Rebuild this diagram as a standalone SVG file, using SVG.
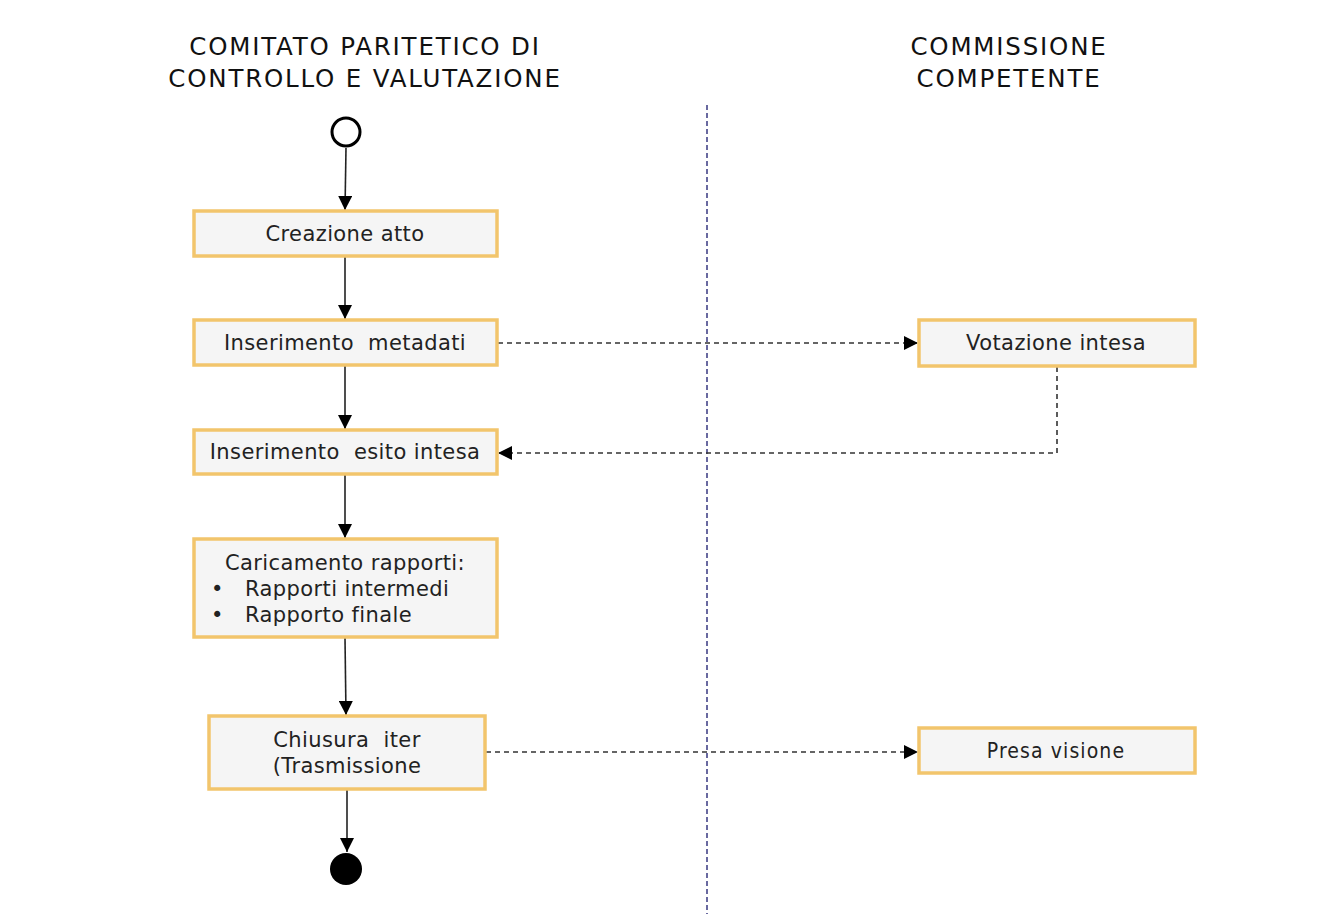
<svg xmlns="http://www.w3.org/2000/svg" width="1334" height="914" viewBox="0 0 1334 914">
<style>
text{font-family:"DejaVu Sans","Verdana",sans-serif;fill:#222;}
.title{font-size:24.5px;letter-spacing:1.8px;text-anchor:middle;fill:#111;}
.lbl{font-size:21px;letter-spacing:0.4px;text-anchor:middle;}
.li{font-size:21px;letter-spacing:0.4px;}
.box{fill:#F5F5F5;stroke:#F2C56C;stroke-width:3.5;}
.solid{stroke:#222;stroke-width:1.6;fill:none;marker-end:url(#ah);}
.dash{stroke:#333;stroke-width:1.6;fill:none;stroke-dasharray:5,4;marker-end:url(#ah);}
</style>
<defs>
<marker id="ah" viewBox="0 0 10 10" refX="10" refY="5" markerWidth="15" markerHeight="14" markerUnits="userSpaceOnUse" orient="auto">
<path d="M0,0 L10,5 L0,10 z" fill="#000"/>
</marker>
</defs>
<rect width="1334" height="914" fill="#fff"/>
<g id="titles">
<text class="title" x="365" y="55">COMITATO PARITETICO DI</text>
<text class="title" x="365" y="87">CONTROLLO E VALUTAZIONE</text>
<text class="title" x="1009" y="55">COMMISSIONE</text>
<text class="title" x="1009" y="87">COMPETENTE</text>
</g>
<line id="swimlane" x1="707" y1="105" x2="707" y2="914" stroke="#1a1a6e" stroke-width="1.3" stroke-dasharray="5,3"/>
<g id="connectors">
<path class="solid" d="M346,148 L345,210"/>
<path class="solid" d="M345,257 L345,319"/>
<path class="solid" d="M345,366 L345,429"/>
<path class="solid" d="M345,475 L345,538"/>
<path class="solid" d="M345,638 L346,715"/>
<path class="solid" d="M347,790 L347,852"/>
<path class="dash" d="M498,343 L918,343"/>
<path class="dash" d="M1057,367 L1057,453 L498,453"/>
<path class="dash" d="M486,752 L918,752"/>
</g>
<g id="start"><circle cx="346" cy="132" r="14" fill="#fff" stroke="#000" stroke-width="3"/></g>
<g id="n1"><rect class="box" x="194" y="211" width="303" height="45"/><text class="lbl" x="345" y="241">Creazione atto</text></g>
<g id="n2"><rect class="box" x="194" y="320" width="303" height="45"/><text class="lbl" x="345" y="350" xml:space="preserve">Inserimento  metadati</text></g>
<g id="n3"><rect class="box" x="194" y="430" width="303" height="44"/><text class="lbl" x="345" y="459" xml:space="preserve">Inserimento  esito intesa</text></g>
<g id="n4"><rect class="box" x="194" y="539" width="303" height="98"/>
<text class="lbl" x="345" y="570">Caricamento rapporti:</text>
<text class="li" x="211" y="596">•</text><text class="li" x="245" y="596">Rapporti intermedi</text>
<text class="li" x="211" y="622">•</text><text class="li" x="245" y="622">Rapporto finale</text>
</g>
<g id="n5"><rect class="box" x="209" y="716" width="276" height="73"/>
<text class="lbl" x="347" y="747" xml:space="preserve">Chiusura  iter</text>
<text class="lbl" x="347" y="773">(Trasmissione</text></g>
<g id="end"><circle cx="346" cy="869" r="16" fill="#000"/></g>
<g id="n6"><rect class="box" x="919" y="320" width="276" height="46"/><text class="lbl" x="1056" y="350">Votazione intesa</text></g>
<g id="n7"><rect class="box" x="919" y="728" width="276" height="45"/><text class="lbl" x="1056" y="758" style="font-family:'DejaVu Sans Condensed','Liberation Sans Narrow',sans-serif;letter-spacing:1.1px">Presa visione</text></g>
</svg>
